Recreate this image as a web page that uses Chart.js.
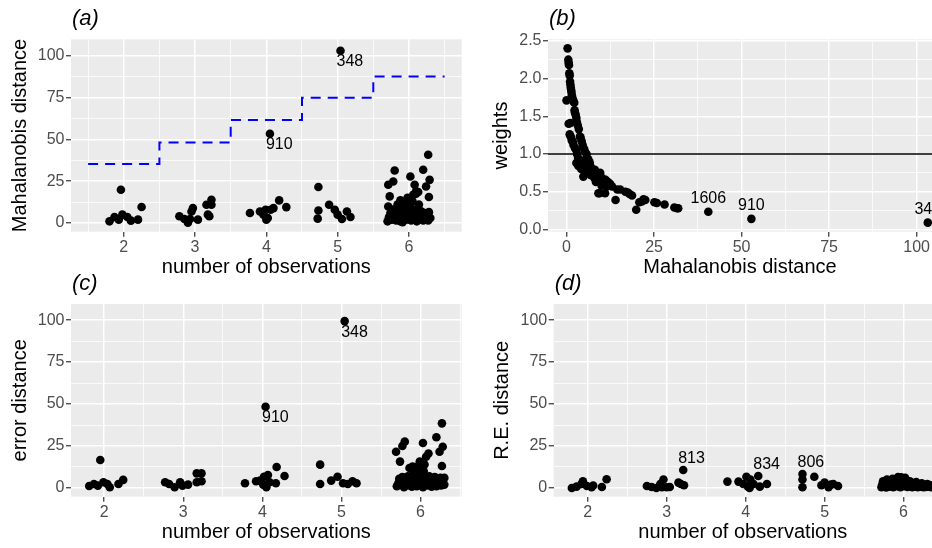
<!DOCTYPE html>
<html><head><meta charset="utf-8">
<script src="https://cdn.jsdelivr.net/npm/chart.js@4.4.1/dist/chart.umd.min.js"></script>
<style>
html,body{margin:0;padding:0;background:#fff;}
#wrap{position:relative;width:932px;height:548px;overflow:hidden;}
canvas{position:absolute;}
</style></head><body>
<div id="wrap">
<canvas id="ca" width="466" height="290" style="left:0;top:0;width:466px;height:290px"></canvas>
<canvas id="cb" width="466" height="290" style="left:466px;top:0;width:466px;height:290px"></canvas>
<canvas id="cc" width="466" height="274" style="left:0;top:274px;width:466px;height:274px"></canvas>
<canvas id="cd" width="466" height="274" style="left:466px;top:274px;width:466px;height:274px"></canvas>
</div>
<script>
// ---------- tick labels ----------
const obsTicks = [2, 3, 4, 5, 6];
const distTicks = [0, 25, 50, 75, 100];
const weightTicks = [0, 0.5, 1, 1.5, 2, 2.5];
const mdTicks = [0, 25, 50, 75, 100];

// ---------- panel (a): Mahalanobis distance by number of observations (jittered) ----------
const obsA = [1.80,1.87,1.93,1.96,1.98,2.05,2.10,2.20,2.25,
  2.78,2.85,2.90,2.93,2.95,2.97,3.04,3.16,3.23,3.23,3.18,3.20,
  3.77,3.91,3.96,3.99,4.00,4.02,4.06,4.10,4.18,4.28,4.05,
  4.73,4.73,4.72,4.88,4.96,5.00,5.06,5.13,5.18,5.04,
  5.71,5.78,5.80,5.73,5.71,6.02,6.08,6.10,6.06,6.20,6.24,6.29,6.27,6.28,
  5.70,5.72,5.74,5.76,5.78,5.80,5.82,5.84,5.85,5.86,5.88,5.90,5.91,5.93,5.94,5.95,5.97,5.98,6.00,6.01,
  6.03,6.04,6.05,6.07,6.09,6.11,6.12,6.14,6.15,6.17,6.18,6.20,6.22,6.23,6.25,6.27,6.28,6.30,5.88,5.96,
  6.10,6.13,5.84,6.06,5.92];
const mahalA = [1.0,3.6,2.0,19.9,5.0,3.6,1.4,2.0,9.6,
  4.0,2.4,0.2,2.4,6.9,8.9,2.0,10.9,13.9,10.9,5.0,4.0,
  6.0,6.9,5.0,7.9,2.0,3.0,7.9,8.9,13.5,9.5,53.3,
  21.5,7.5,2.6,10.9,7.9,5.0,2.4,6.9,3.6,103,
  22.9,24.8,31.4,15.9,9.9,27.8,22.9,18.9,16.9,31.8,21.8,25.8,40.8,15.5,
  1.0,3.5,6.0,2.0,8.0,4.5,1.5,11.0,6.5,3.0,13.5,9.0,0.5,5.0,12.0,2.5,7.0,15.0,4.0,10.5,
  1.5,6.0,13.0,3.5,8.0,1.0,5.5,11.0,2.5,7.0,4.0,1.5,6.0,3.0,5.0,1.5,6.5,3.0,1.0,2.0,
  17.5,18.5,5.0,5.5,7.5];
const cutoffA = [35.2, 48.1, 61.6, 74.9, 87.5];   // dashed step cut-off per number of observations
const labIdA = ['348', '910'];
const labXA = [5.04, 4.05];
const labYA = [103, 53.3];

// ---------- panel (b): weights vs Mahalanobis distance ----------
const mdB = [0.3,0.5,0.6,0.7,0.8,0.9,1.0,1.1,1.2,1.3,
  1.4,1.5,1.6,1.8,2.0,2.2,0.0,2.3,2.4,2.6,
  2.8,1.1,0.6,2.9,3.2,3.5,0.9,1.2,1.5,1.8,
  2.0,2.4,2.8,3.8,4.0,4.3,4.6,5.0,5.3,5.7,
  3.0,3.3,3.6,4.0,4.4,4.8,5.2,5.8,6.2,6.6,
  2.8,3.4,4.2,5.0,5.5,6.0,6.8,7.3,8.1,4.8,
  5.6,6.3,7.0,8.0,8.4,9.6,9.8,10.1,11.0,11.5,
  12.0,12.5,9.1,10.0,11.5,13.0,14.5,15.3,16.8,17.5,
  18.0,18.7,9.4,11.0,14.0,19.9,20.8,21.5,22.0,22.5,
  25.1,25.8,28.0,30.8,31.6,31.9,40.5,52.8,103.2];
const weightsB = [2.40,2.25,2.21,2.18,2.07,2.04,1.96,1.92,1.88,1.85,
  1.82,1.78,1.75,1.72,1.70,1.68,1.71,1.58,1.55,1.52,
  1.48,1.41,1.40,1.43,1.38,1.33,1.26,1.23,1.18,1.16,
  1.12,1.08,1.05,1.23,1.22,1.17,1.12,1.07,1.03,1.00,
  1.00,0.95,0.92,0.90,0.88,0.86,0.92,0.95,0.93,0.89,
  0.88,0.84,0.80,0.83,0.82,0.80,0.84,0.80,0.79,0.70,
  0.74,0.76,0.72,0.68,0.63,0.75,0.70,0.65,0.66,0.64,
  0.62,0.60,0.48,0.58,0.57,0.57,0.53,0.53,0.50,0.49,
  0.47,0.45,0.48,0.48,0.39,0.26,0.36,0.37,0.40,0.39,
  0.36,0.35,0.33,0.29,0.28,0.28,0.235,0.14,0.09];
const weightRef = 1;
const labIdB = ['1606', '910', '348'];
const labXB = [40.5, 52.8, 103.2];
const labYB = [0.235, 0.14, 0.09];

// ---------- panel (c): error distance ----------
const obsC = [1.81,1.87,1.92,1.95,1.99,2.04,2.07,2.18,2.24,
  2.77,2.82,2.89,2.96,2.99,3.06,3.17,3.23,3.17,3.23,
  3.78,3.92,3.97,4.01,4.05,4.02,4.07,4.09,4.18,4.17,4.28,4.04,
  4.73,4.73,4.87,4.95,5.02,5.08,5.14,5.19,5.04,
  5.69,5.80,5.77,5.74,6.03,6.20,6.27,6.24,6.28,6.27,6.07,6.10,5.90,5.96,5.86,5.99,6.05,
  5.70,5.72,5.73,5.75,5.77,5.79,5.81,5.83,5.84,5.86,5.88,5.89,5.91,5.92,5.94,5.95,5.97,5.98,6.00,6.01,
  6.03,6.04,6.06,6.08,6.09,6.11,6.12,6.14,6.15,6.17,6.18,6.20,6.21,6.23,6.25,6.26,6.28,6.30,6.30,5.93,6.02];
const errC = [1.2,2.4,1.4,16.7,3.4,2.4,0.4,2.4,4.8,
  3.4,2.4,0.4,3.4,1.4,2.0,8.7,8.7,3.4,4.0,
  2.8,4.0,4.4,2.0,0.4,6.7,7.7,3.4,12.5,2.8,7.1,48.4,
  13.9,2.4,4.4,6.7,2.8,2.4,4.0,2.8,99.4,
  21.6,27.6,25.0,15.7,26.8,30.2,38.5,21.6,24.6,13.1,18.6,20.5,12.7,12.7,11.9,15.7,14.0,
  1.0,3.0,5.5,2.0,6.5,0.5,4.0,1.5,7.0,3.0,5.0,0.8,9.0,2.5,6.0,1.0,4.0,8.5,2.0,6.0,
  0.5,10.0,3.5,5.5,1.5,7.0,3.0,0.8,5.0,2.0,6.5,1.0,4.0,2.5,6.0,1.5,4.5,2.0,6.0,10.5,11.0];
const labIdC = ['348', '910'];
const labXC = [5.04, 4.04];
const labYC = [99.4, 48.4];

// ---------- panel (d): R.E. distance ----------
const obsD = [1.80,1.86,1.92,1.94,1.99,2.05,2.07,2.18,2.24,
  2.75,2.81,2.87,2.92,2.94,2.96,3.00,3.04,3.15,3.18,3.22,3.21,
  3.77,3.91,3.97,4.01,4.03,4.05,4.06,4.10,4.16,4.18,4.27,
  4.72,4.72,4.72,4.87,4.96,5.00,5.05,5.08,5.11,5.17,
  5.72,5.73,5.74,5.75,5.76,5.78,5.79,5.80,5.82,5.83,5.85,5.86,5.87,5.89,5.90,5.92,5.93,5.95,5.96,5.98,
  5.99,6.01,6.02,6.04,6.05,6.07,6.08,6.10,6.11,6.13,6.15,6.16,6.18,6.20,6.22,6.23,6.25,6.27,6.28,6.30,
  6.31,6.33,6.35,5.97,5.88];
const reD = [0.0,0.8,2.4,4.0,1.2,0.4,1.5,0.6,5.2,
  1.2,0.6,0.0,2.4,0.4,5.0,0.4,0.6,3.2,2.4,1.6,10.7,
  3.8,3.8,2.4,6.7,0.8,0.0,5.0,2.4,7.1,0.8,2.4,
  8.3,5.0,0.4,6.7,1.6,3.2,0.4,2.0,2.4,1.2,
  0.5,2.0,4.0,1.0,3.0,0.3,5.0,2.0,0.8,3.5,1.5,5.5,0.4,2.5,4.5,1.0,6.5,3.0,0.5,2.0,
  5.0,1.0,6.0,3.0,0.6,2.0,4.0,1.2,0.4,2.5,1.0,3.5,0.5,1.8,0.8,2.8,0.4,1.5,0.6,2.4,
  0.8,1.8,0.5,6.3,4.0];
const labIdD = ['813', '834', '806'];
const labXD = [3.21, 4.16, 4.72];
const labYD = [10.7, 7.1, 8.3];

// ---------- styling helpers ----------
const FAM = '"Liberation Sans", Arial, Helvetica, sans-serif';
Chart.defaults.font.family = FAM;

function axis(o) {
  const step = o.majors[1] - o.majors[0];
  const vals = new Set();
  o.majors.forEach(m => { vals.add(m); vals.add(+(m - step / 2).toFixed(6)); vals.add(+(m + step / 2).toFixed(6)); });
  const grid = [...vals].filter(v => v >= o.min && v <= o.max).sort((a, b) => a - b);
  const isMajor = v => o.majors.some(m => Math.abs(m - v) < 1e-9);
  return {
    type: 'linear', min: o.min, max: o.max,
    afterBuildTicks: s => { s.ticks = grid.map(v => ({ value: v })); },
    afterFit: s => { if (o.horizontal) s.height = o.size; else s.width = o.size; },
    border: { display: false },
    grid: {
      color: '#FFFFFF',
      lineWidth: c => (c.tick && isMajor(c.tick.value)) ? 1.5 : 0.75,
      drawTicks: true, tickLength: 5, tickWidth: 1.2,
      tickColor: c => (c.tick && isMajor(c.tick.value)) ? '#333333' : 'rgba(0,0,0,0)'
    },
    ticks: {
      color: '#4D4D4D', font: { size: 16, family: FAM }, padding: 1.5,
      maxRotation: 0, minRotation: 0, autoSkip: false,
      callback: v => isMajor(v) ? o.fmt(v) : ''
    },
    title: { display: true, text: o.title, color: '#000000', font: { size: 20, family: FAM },
      padding: { top: o.pt || 0, bottom: o.pb || 0 } }
  };
}

function ggPlugin(o) {
  return {
    id: 'gg' + o.tag,
    beforeDraw(chart) {
      const { ctx, chartArea: a } = chart;
      ctx.save();
      ctx.fillStyle = '#EBEBEB';
      ctx.fillRect(a.left, a.top, a.right - a.left, a.bottom - a.top);
      ctx.restore();
    },
    afterDatasetsDraw(chart) {
      const { ctx, chartArea: a, scales } = chart;
      ctx.save();
      if (o.refY !== undefined) {
        const yy = scales.y.getPixelForValue(o.refY);
        ctx.strokeStyle = '#000000'; ctx.lineWidth = 1.5;
        ctx.beginPath(); ctx.moveTo(a.left, yy); ctx.lineTo(a.right, yy); ctx.stroke();
      }
      ctx.fillStyle = '#000000';
      ctx.font = '16px ' + FAM;
      ctx.textAlign = o.align; ctx.textBaseline = 'alphabetic';
      o.ids.forEach((t, i) => {
        const px = scales.x.getPixelForValue(o.lx[i]);
        const py = scales.y.getPixelForValue(o.ly[i]);
        ctx.fillText(t, px + o.dx, py + o.dy);
      });
      ctx.font = 'italic 22px ' + FAM;
      ctx.textAlign = 'left';
      ctx.fillText('(' + o.tag + ')', a.left + 1, a.top - 14);
      ctx.restore();
    }
  };
}

const pts = (xs, ys) => xs.map((x, i) => ({ x: x, y: ys[i] }));
const dotStyle = { pointRadius: 4.3, pointHoverRadius: 4.3, pointBackgroundColor: '#000000', pointBorderWidth: 0, showLine: false };
const base = { responsive: false, animation: false, events: [],
  plugins: { legend: { display: false }, tooltip: { enabled: false } } };

// ---------- (a) ----------
const stepData = cutoffA.map((c, i) => ({ x: obsTicks[i] - 0.5, y: c }))
  .concat([{ x: obsTicks[obsTicks.length - 1] + 0.5, y: cutoffA[cutoffA.length - 1] }]);
new Chart(document.getElementById('ca'), {
  type: 'scatter',
  data: { datasets: [
    Object.assign({ data: pts(obsA, mahalA) }, dotStyle),
    { type: 'line', data: stepData, stepped: 'before', borderColor: '#0000FF', borderWidth: 2,
      borderDash: [10, 7], pointRadius: 0, fill: false }
  ] },
  options: Object.assign({}, base, {
    layout: { autoPadding: false, padding: { left: 0, top: 39.3, right: 4.3, bottom: 0 } },
    scales: {
      x: axis({ min: 1.26, max: 6.74, majors: obsTicks, fmt: v => String(v), title: 'number of observations', horizontal: true, size: 58.3, pb: 10.2 }),
      y: axis({ min: -5.2, max: 109.8, majors: distTicks, fmt: v => String(v), title: 'Mahalanobis distance', size: 71, pt: 8.2 })
    }
  }),
  plugins: [ggPlugin({ tag: 'a', ids: labIdA, lx: labXA, ly: labYA, align: 'left', dx: -4, dy: 15.5 })]
});

// ---------- (b) ----------
new Chart(document.getElementById('cb'), {
  type: 'scatter',
  data: { datasets: [Object.assign({ data: pts(mdB, weightsB) }, dotStyle)] },
  options: Object.assign({}, base, {
    layout: { autoPadding: false, padding: { left: 0, top: 39.3, right: 0, bottom: 0 } },
    scales: {
      x: axis({ min: -5.3, max: 104.4, majors: mdTicks, fmt: v => String(v), title: 'Mahalanobis distance', horizontal: true, size: 58.3, pb: 10.2 }),
      y: axis({ min: -0.03, max: 2.52, majors: weightTicks, fmt: v => v.toFixed(1), title: 'weights', size: 82, pt: 23.6 })
    }
  }),
  plugins: [ggPlugin({ tag: 'b', ids: labIdB, lx: labXB, ly: labYB, align: 'center', dx: 0, dy: -8.5, refY: weightRef })]
});

// ---------- (c) ----------
new Chart(document.getElementById('cc'), {
  type: 'scatter',
  data: { datasets: [Object.assign({ data: pts(obsC, errC) }, dotStyle)] },
  options: Object.assign({}, base, {
    layout: { autoPadding: false, padding: { left: 0, top: 30, right: 4.3, bottom: 0 } },
    scales: {
      x: axis({ min: 1.58, max: 6.52, majors: obsTicks, fmt: v => String(v), title: 'number of observations', horizontal: true, size: 51.3, pb: 3.2 }),
      y: axis({ min: -5.2, max: 109.6, majors: distTicks, fmt: v => String(v), title: 'error distance', size: 71, pt: 8.2 })
    }
  }),
  plugins: [ggPlugin({ tag: 'c', ids: labIdC, lx: labXC, ly: labYC, align: 'left', dx: -3.5, dy: 15.5 })]
});

// ---------- (d) ----------
new Chart(document.getElementById('cd'), {
  type: 'scatter',
  data: { datasets: [Object.assign({ data: pts(obsD, reD) }, dotStyle)] },
  options: Object.assign({}, base, {
    layout: { autoPadding: false, padding: { left: 0, top: 30, right: 0, bottom: 0 } },
    scales: {
      x: axis({ min: 1.57, max: 6.36, majors: obsTicks, fmt: v => String(v), title: 'number of observations', horizontal: true, size: 51.3, pb: 3.2 }),
      y: axis({ min: -5.2, max: 109.6, majors: distTicks, fmt: v => String(v), title: 'R.E. distance', size: 87.7, pt: 24.4 })
    }
  }),
  plugins: [ggPlugin({ tag: 'd', ids: labIdD, lx: labXD, ly: labYD, align: 'left', dx: -5, dy: -7 })]
});
</script>
</body></html>
